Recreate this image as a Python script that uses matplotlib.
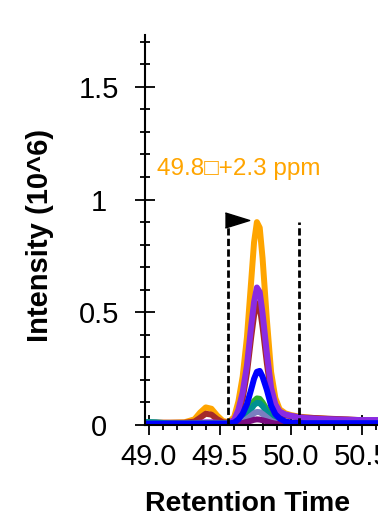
import matplotlib
matplotlib.use("Agg")
from matplotlib import pyplot as plt
from matplotlib.ticker import MultipleLocator

plt.rcParams['font.family'] = ['Liberation Sans', 'DejaVu Sans']

# retention time (min) shared by all traces
times = [48.95, 49.05, 49.15, 49.25, 49.32, 49.36, 49.40, 49.44, 49.48, 49.52,
         49.56, 49.60, 49.63, 49.66, 49.69, 49.72, 49.74, 49.76, 49.78, 49.80,
         49.83, 49.86, 49.89, 49.92, 49.96, 50.00, 50.05, 50.10, 50.20, 50.30,
         50.40, 50.50, 50.65]

# intensities in 10^6
orange = [0.010, 0.010, 0.010, 0.012, 0.025, 0.055, 0.078, 0.072, 0.042, 0.018,
          0.012, 0.035, 0.105, 0.215, 0.390, 0.640, 0.810, 0.900, 0.875, 0.740,
          0.470, 0.235, 0.120, 0.070, 0.052, 0.044, 0.038, 0.034, 0.029, 0.025,
          0.021, 0.019, 0.017]
brown = [0.010, 0.010, 0.010, 0.010, 0.015, 0.032, 0.050, 0.046, 0.026, 0.012,
         0.010, 0.020, 0.052, 0.118, 0.230, 0.390, 0.485, 0.540, 0.525, 0.435,
         0.275, 0.140, 0.075, 0.052, 0.043, 0.039, 0.035, 0.033, 0.030, 0.027,
         0.025, 0.021, 0.019]
purple = [0.008, 0.008, 0.008, 0.008, 0.008, 0.010, 0.012, 0.012, 0.010, 0.008,
          0.008, 0.022, 0.068, 0.145, 0.265, 0.440, 0.545, 0.610, 0.590, 0.495,
          0.320, 0.165, 0.092, 0.060, 0.047, 0.041, 0.035, 0.031, 0.027, 0.025,
          0.023, 0.022, 0.022]
green = [0.006, 0.006, 0.006, 0.006, 0.006, 0.006, 0.006, 0.006, 0.006, 0.006,
         0.006, 0.008, 0.014, 0.028, 0.052, 0.085, 0.106, 0.118, 0.116, 0.100,
         0.069, 0.037, 0.020, 0.011, 0.007, 0.006, 0.006, 0.006, 0.006, 0.006,
         0.006, 0.006, 0.006]
teal = [0.014, 0.012, 0.006, 0.006, 0.006, 0.006, 0.006, 0.006, 0.006, 0.006,
        0.006, 0.008, 0.013, 0.024, 0.043, 0.070, 0.089, 0.098, 0.097, 0.084,
        0.058, 0.030, 0.016, 0.010, 0.007, 0.006, 0.006, 0.006, 0.006, 0.006,
        0.006, 0.006, 0.006]
slate = [0.005, 0.005, 0.005, 0.005, 0.005, 0.005, 0.005, 0.005, 0.005, 0.005,
         0.005, 0.006, 0.009, 0.016, 0.027, 0.042, 0.052, 0.058, 0.057, 0.049,
         0.034, 0.019, 0.011, 0.007, 0.005, 0.005, 0.005, 0.005, 0.005, 0.005,
         0.005, 0.005, 0.005]
darkpurple = [0.004, 0.004, 0.004, 0.004, 0.004, 0.004, 0.004, 0.004, 0.004, 0.004,
              0.004, 0.004, 0.006, 0.009, 0.014, 0.019, 0.023, 0.025, 0.024, 0.021,
              0.016, 0.010, 0.006, 0.004, 0.004, 0.004, 0.004, 0.004, 0.004, 0.004,
              0.004, 0.004, 0.004]
blue = [0.006, 0.006, 0.006, 0.006, 0.006, 0.006, 0.006, 0.006, 0.006, 0.006,
        0.006, 0.011, 0.025, 0.050, 0.092, 0.158, 0.205, 0.236, 0.240, 0.214,
        0.156, 0.086, 0.048, 0.029, 0.016, 0.011, 0.009, 0.008, 0.008, 0.008,
        0.008, 0.008, 0.008]

window = [49.56, 50.06]   # integration boundaries
window_top = 0.90
label_text = "49.8\u25a1+2.3 ppm"

traces = [
    (orange, "#FFA500"),
    (brown, "#A52A2A"),
    (purple, "#8A2BE2"),
    (green, "#2DB02D"),
    (teal, "#009090"),
    (slate, "#7A7EC0"),
    (darkpurple, "#7A0A80"),
    (blue, "#0000FF"),
]

fig = plt.figure(figsize=(3.78, 5.22), dpi=100)
ax = fig.add_axes([145 / 378, 97 / 522, 233 / 378, 390 / 522])

for vals, col in traces:
    ax.plot(times, vals, color=col, lw=4.3, solid_joinstyle="round")

ax.vlines(window, 0, window_top, colors="black", lw=2, linestyles=(0, (2.6, 1.2)))
tri = [(-1, -0.62), (1, 0), (-1, 0.62)]
ax.plot(window[0] + 0.058, window_top + 0.01, marker=tri, ms=17.5, color="black",
        ls="none", clip_on=False)

ax.text(49.056, 1.135, label_text, color="#FFA500", fontsize=17.5, va="center", ha="left")

ax.set_xlim(48.972, 50.613)
ax.set_ylim(0, 1.73)
ax.xaxis.set_major_locator(MultipleLocator(0.5))
ax.xaxis.set_minor_locator(MultipleLocator(0.1))
ax.yaxis.set_major_locator(MultipleLocator(0.5))
ax.yaxis.set_minor_locator(MultipleLocator(0.1))
ax.xaxis.set_major_formatter(plt.FuncFormatter(lambda v, p: f"{v:.1f}"))
ax.yaxis.set_major_formatter(plt.FuncFormatter(lambda v, p: f"{v:g}"))

for s in ["top", "right"]:
    ax.spines[s].set_visible(False)
for s in ["left", "bottom"]:
    ax.spines[s].set_linewidth(1.5)

ax.tick_params(which="major", direction="inout", length=14.4, width=1.3, labelsize=21)
ax.tick_params(axis="y", which="major", pad=26)
ax.tick_params(axis="x", which="major", pad=6)
ax.tick_params(which="minor", direction="inout", length=7, width=1.3)
for t in ax.get_yticklabels():
    t.set_horizontalalignment("center")

ax.set_xlabel("Retention Time", fontsize=20.5, fontweight="bold")
ax.set_ylabel("Intensity (10^6)", fontsize=21, fontweight="bold")
ax.xaxis.set_label_coords(0.442, -0.168)
ax.yaxis.set_label_coords(-0.39, 0.485)

fig.savefig("out.png", dpi=100)
